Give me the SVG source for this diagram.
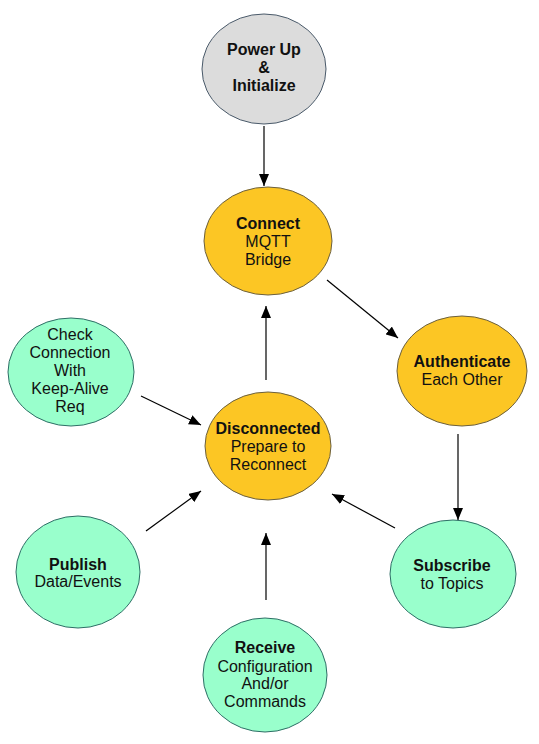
<svg xmlns="http://www.w3.org/2000/svg" width="539" height="744" viewBox="0 0 539 744">
<style>
text{font-family:"Liberation Sans",Arial,sans-serif;font-size:16px;fill:#111;text-anchor:middle}
.b{font-weight:bold}
.node ellipse{stroke-width:1}
.gray{fill:#dcdcdc;stroke:#4a5a6a}
.yel{fill:#fcc624;stroke:#6b6040}
.grn{fill:#99ffcc;stroke:#2f6e66}
.edge{stroke:#000;stroke-width:1.2;fill:none;marker-end:url(#ah)}
</style>
<defs>
<marker id="ah" viewBox="0 0 12 10" refX="12" refY="5" markerWidth="12" markerHeight="10" markerUnits="userSpaceOnUse" orient="auto">
<path d="M0,0 L12,5 L0,10 z" fill="#000"/>
</marker>
</defs>
<rect width="539" height="744" fill="#fff"/>
<g id="connectors">
<line class="edge" x1="264" y1="126" x2="264" y2="186"/>
<line class="edge" x1="327" y1="280" x2="398" y2="338"/>
<line class="edge" x1="458" y1="434" x2="458" y2="520"/>
<line class="edge" x1="395" y1="528" x2="332" y2="494"/>
<line class="edge" x1="266" y1="380" x2="266" y2="306"/>
<line class="edge" x1="141" y1="396" x2="201" y2="425"/>
<line class="edge" x1="146" y1="531" x2="201" y2="491"/>
<line class="edge" x1="266" y1="600" x2="266" y2="533"/>
</g>
<g id="power" class="node">
<ellipse class="gray" cx="264" cy="69" rx="62" ry="55"/>
<text class="b" x="264" y="55">Power Up</text>
<text class="b" x="264" y="73">&amp;</text>
<text class="b" x="264" y="91">Initialize</text>
</g>
<g id="connect" class="node">
<ellipse class="yel" cx="268" cy="241" rx="64" ry="54"/>
<text class="b" x="268" y="229">Connect</text>
<text x="268" y="247">MQTT</text>
<text x="268" y="265">Bridge</text>
</g>
<g id="authenticate" class="node">
<ellipse class="yel" cx="462" cy="371" rx="65" ry="55"/>
<text class="b" x="462" y="367">Authenticate</text>
<text x="462" y="385">Each Other</text>
</g>
<g id="subscribe" class="node">
<ellipse class="grn" cx="453" cy="574" rx="63" ry="54"/>
<text class="b" x="452" y="571">Subscribe</text>
<text x="452" y="589">to Topics</text>
</g>
<g id="disconnected" class="node">
<ellipse class="yel" cx="268" cy="446" rx="63" ry="54"/>
<text class="b" x="268" y="434">Disconnected</text>
<text x="268" y="452">Prepare to</text>
<text x="268" y="470">Reconnect</text>
</g>
<g id="check" class="node">
<ellipse class="grn" cx="71" cy="372" rx="63" ry="54"/>
<text x="70" y="340">Check</text>
<text x="70" y="358">Connection</text>
<text x="70" y="376">With</text>
<text x="70" y="394">Keep-Alive</text>
<text x="70" y="412">Req</text>
</g>
<g id="publish" class="node">
<ellipse class="grn" cx="78" cy="572" rx="62" ry="56"/>
<text class="b" x="78" y="570">Publish</text>
<text x="78" y="587">Data/Events</text>
</g>
<g id="receive" class="node">
<ellipse class="grn" cx="265" cy="675" rx="62" ry="57"/>
<text class="b" x="265" y="653">Receive</text>
<text x="265" y="672">Configuration</text>
<text x="265" y="689">And/or</text>
<text x="265" y="707">Commands</text>
</g>
</svg>
